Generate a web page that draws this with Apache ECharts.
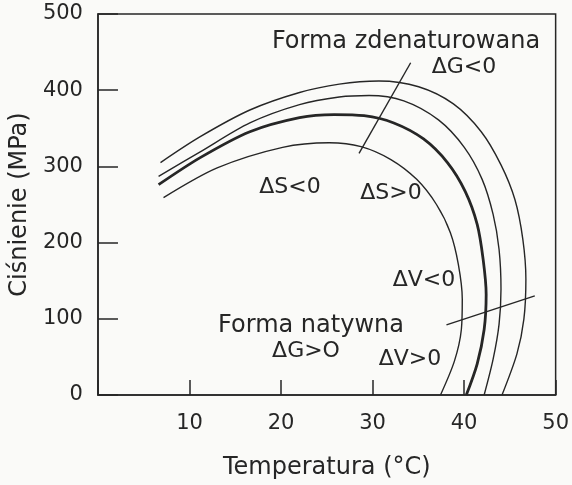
<!DOCTYPE html>
<html>
<head>
<meta charset="utf-8">
<script src="https://cdn.jsdelivr.net/npm/echarts@6/dist/echarts.min.js"></script>
<style>
html,body{margin:0;padding:0;background:#fafaf8;}
#chart{width:572px;height:485px;}
</style>
</head>
<body>
<div id="chart"></div>
<script>
// Temperature (°C), pressure (MPa) pairs
var curveOuter = [[6.83,305],[11.17,339],[16.59,374],[22.02,397],[26.36,408],[30.69,412],[35.03,404.5],[38.83,382],[41.87,345.5],[44.03,302],[45.55,256.5],[46.42,204],[46.75,152],[46.53,99.5],[45.77,54],[44.14,0]];
var curveSecond = [[6.62,287],[11.17,319],[16.59,357],[22.02,381],[26.36,391],[29.61,393],[33.41,386],[37.2,361],[40.02,325],[41.97,283],[43.17,237],[43.82,191],[44.03,139],[43.82,93],[43.17,47],[42.19,0]];
var curveThick = [[6.62,276],[11.17,311.5],[16.59,345.5],[22.02,364],[25.81,368],[29.07,366.5],[32.32,357],[35.57,336],[38.18,305],[40.13,267],[41.43,224],[42.08,178],[42.41,132],[42.19,86],[41.43,41],[40.24,0]];
var curveInner = [[7.16,259],[13.02,298],[20.17,325],[25.27,331],[28.74,326],[32.0,309],[34.82,283],[36.98,250],[38.5,213],[39.37,171.5],[39.8,126],[39.7,86],[38.94,44.5],[37.42,0]];
var lineDeltaG = [[34.16,436],[28.52,317]];
var lineDeltaV = [[38.07,92],[47.72,130]];
var xTicks = [0,10,20,30,40,50];
var yTicks = [0,100,200,300,400,500];

var ink = '#262626';
var font = 'DejaVu Sans';
function curve(d, w){
  return {type:'line', data:d, smooth:0.3, symbol:'none', silent:true,
    lineStyle:{color:ink, width:w}};
}
function txt(t, x, y, size){
  return {type:'text', x:x, y:y, style:{text:t, fill:ink, font:size+'px "'+font+'"', textAlign:'center', textVerticalAlign:'middle'}};
}
var chart = echarts.init(document.getElementById('chart'));
chart.setOption({
  backgroundColor:'#fafaf8',
  animation:false,
  grid:{left:97, top:14, right:14, bottom:89, show:true, borderColor:ink, borderWidth:1.5, backgroundColor:'transparent'},
  xAxis:{type:'value', min:xTicks[0], max:xTicks[xTicks.length-1], interval:10,
    name:'Temperatura (°C)', nameLocation:'middle', nameGap:61,
    nameTextStyle:{color:ink, fontSize:24, fontFamily:font},
    axisLine:{lineStyle:{color:ink, width:1.5}},
    axisTick:{inside:true, length:15, lineStyle:{color:ink, width:1.5}},
    axisLabel:{color:ink, fontSize:21, fontFamily:font, margin:18,
      formatter:function(v){return v===0?'':String(v);}},
    splitLine:{show:false}},
  yAxis:{type:'value', min:yTicks[0], max:yTicks[yTicks.length-1], interval:100,
    name:'Ciśnienie (MPa)', nameLocation:'middle', nameGap:62,
    nameTextStyle:{color:ink, fontSize:24, fontFamily:font},
    axisLine:{lineStyle:{color:ink, width:1.5}},
    axisTick:{inside:true, length:20, lineStyle:{color:ink, width:1.5}},
    axisLabel:{color:ink, fontSize:21, fontFamily:font, margin:15},
    splitLine:{show:false}},
  series:[
    curve(curveOuter,1.4), curve(curveSecond,1.4), curve(curveThick,2.8), curve(curveInner,1.4),
    {type:'line', data:lineDeltaG, symbol:'none', silent:true, lineStyle:{color:ink, width:1.4}},
    {type:'line', data:lineDeltaV, symbol:'none', silent:true, lineStyle:{color:ink, width:1.4}}
  ],
  graphic:[
    txt('Forma zdenaturowana',406,42,24),
    txt('ΔG<0',464,67,22),
    txt('ΔS<0',290,187,22),
    txt('ΔS>0',391,193,22),
    txt('ΔV<0',424,280,22),
    txt('Forma natywna',311,326,24),
    txt('ΔG>O',306,351,22),
    txt('ΔV>0',410,359,22)
  ]
});
</script>
</body>
</html>
